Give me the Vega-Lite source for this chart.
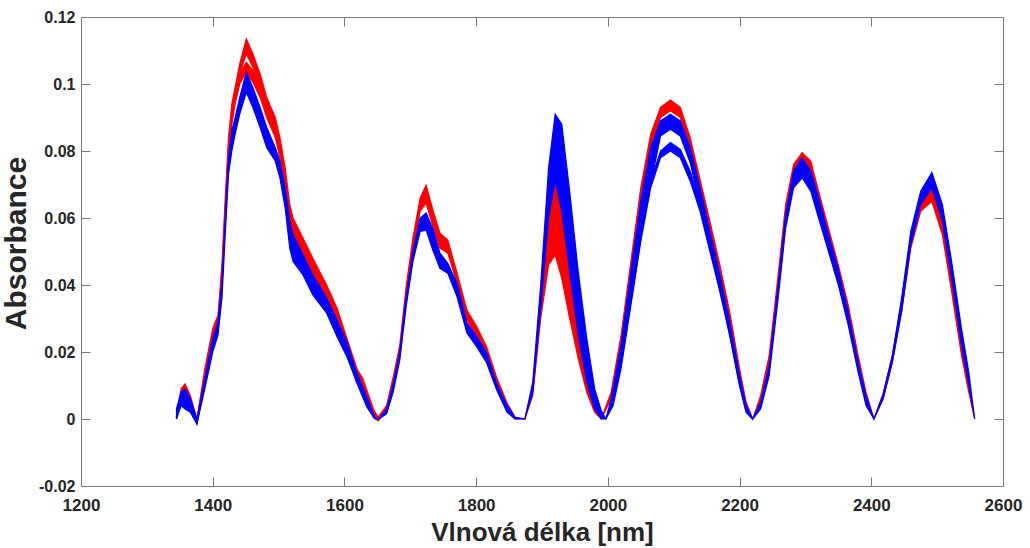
{
  "$schema": "https://vega.github.io/schema/vega-lite/v6.json",
  "width": 922,
  "height": 469,
  "autosize": {"type": "none"},
  "padding": {"left": 81, "top": 17, "right": 27, "bottom": 62},
  "background": "white",
  "config": {
    "view": {"stroke": "#7a7a7a", "strokeWidth": 1},
    "axis": {
      "grid": false,
      "domainColor": "#7a7a7a",
      "tickColor": "#7a7a7a",
      "tickSize": -9,
      "labelFlush": false,
      "labelFont": "Liberation Sans",
      "labelFontWeight": "bold",
      "labelColor": "#262626",
      "titleFont": "Liberation Sans",
      "titleFontWeight": "bold",
      "titleColor": "#262626"
    }
  },
  "datasets": {
    "spectra": [
      {"wl":1345,"g":"r1","lo":0,"hi":0.001},{"wl":1352,"g":"r1","lo":0.007,"hi":0.009},{"wl":1358,"g":"r1","lo":0.008,"hi":0.0105},{"wl":1366,"g":"r1","lo":0.004,"hi":0.007},{"wl":1376,"g":"r1","lo":-0.0015,"hi":0},
      {"wl":1388,"g":"r1","lo":0.012,"hi":0.015},{"wl":1400,"g":"r1","lo":0.023,"hi":0.027},{"wl":1408,"g":"r1","lo":0.027,"hi":0.031},{"wl":1414,"g":"r1","lo":0.041,"hi":0.046},{"wl":1419,"g":"r1","lo":0.061,"hi":0.066},{"wl":1424,"g":"r1","lo":0.079,"hi":0.084},{"wl":1429,"g":"r1","lo":0.09,"hi":0.094},{"wl":1434,"g":"r1","lo":0.096,"hi":0.099},{"wl":1441,"g":"r1","lo":0.103,"hi":0.106},{"wl":1451,"g":"r1","lo":0.109,"hi":0.1135},{"wl":1461,"g":"r1","lo":0.105,"hi":0.109},{"wl":1472,"g":"r1","lo":0.099,"hi":0.103},{"wl":1482,"g":"r1","lo":0.092,"hi":0.096},{"wl":1495,"g":"r1","lo":0.086,"hi":0.09},{"wl":1502,"g":"r1","lo":0.08,"hi":0.084},{"wl":1510,"g":"r1","lo":0.071,"hi":0.075},{"wl":1517,"g":"r1","lo":0.06,"hi":0.064},{"wl":1522,"g":"r1","lo":0.056,"hi":0.06},{"wl":1537,"g":"r1","lo":0.05,"hi":0.054},{"wl":1552,"g":"r1","lo":0.044,"hi":0.048},{"wl":1573,"g":"r1","lo":0.036,"hi":0.04},{"wl":1589,"g":"r1","lo":0.029,"hi":0.033},{"wl":1604,"g":"r1","lo":0.021,"hi":0.024},{"wl":1619,"g":"r1","lo":0.012,"hi":0.015},{"wl":1628,"g":"r1","lo":0.009,"hi":0.012},{"wl":1644,"g":"r1","lo":0.001,"hi":0.003},{"wl":1651,"g":"r1","lo":-0.0005,"hi":0.0005},
      {"wl":1664,"g":"r1","lo":0.002,"hi":0.004},{"wl":1674,"g":"r1","lo":0.01,"hi":0.0125},{"wl":1684,"g":"r1","lo":0.019,"hi":0.022},{"wl":1694,"g":"r1","lo":0.036,"hi":0.04},{"wl":1704,"g":"r1","lo":0.05,"hi":0.054},{"wl":1715,"g":"r1","lo":0.062,"hi":0.066},{"wl":1724,"g":"r1","lo":0.0645,"hi":0.0698},{"wl":1735,"g":"r1","lo":0.057,"hi":0.062},{"wl":1745,"g":"r1","lo":0.051,"hi":0.0555},{"wl":1757,"g":"r1","lo":0.0495,"hi":0.0534},{"wl":1771,"g":"r1","lo":0.0405,"hi":0.0436},{"wl":1786,"g":"r1","lo":0.0296,"hi":0.0325},{"wl":1801,"g":"r1","lo":0.0245,"hi":0.0275},{"wl":1816,"g":"r1","lo":0.0185,"hi":0.0215},{"wl":1831,"g":"r1","lo":0.0095,"hi":0.0125},{"wl":1847,"g":"r1","lo":0.0027,"hi":0.0048},{"wl":1859,"g":"r1","lo":0,"hi":0.0006},{"wl":1874,"g":"r1","lo":0,"hi":0},
      {"wl":1886,"g":"r1","lo":0.007,"hi":0.01},{"wl":1898,"g":"r1","lo":0.03,"hi":0.037},{"wl":1910,"g":"r1","lo":0.046,"hi":0.063},{"wl":1920,"g":"r1","lo":0.049,"hi":0.072},{"wl":1930,"g":"r1","lo":0.042,"hi":0.064},{"wl":1942,"g":"r1","lo":0.03,"hi":0.046},{"wl":1955,"g":"r1","lo":0.018,"hi":0.028},{"wl":1968,"g":"r1","lo":0.008,"hi":0.0135},{"wl":1980,"g":"r1","lo":0.002,"hi":0.004},{"wl":1990,"g":"r1","lo":0,"hi":0},
      {"wl":2005,"g":"r1","lo":0.006,"hi":0.008},{"wl":2020,"g":"r1","lo":0.021,"hi":0.025},{"wl":2035,"g":"r1","lo":0.042,"hi":0.047},{"wl":2050,"g":"r1","lo":0.064,"hi":0.069},{"wl":2065,"g":"r1","lo":0.081,"hi":0.085},{"wl":2080,"g":"r1","lo":0.09,"hi":0.093},{"wl":2095,"g":"r1","lo":0.092,"hi":0.0952},{"wl":2110,"g":"r1","lo":0.09,"hi":0.093},{"wl":2125,"g":"r1","lo":0.0805,"hi":0.084},{"wl":2140,"g":"r1","lo":0.068,"hi":0.0715},{"wl":2155,"g":"r1","lo":0.055,"hi":0.059},{"wl":2170,"g":"r1","lo":0.042,"hi":0.046},{"wl":2185,"g":"r1","lo":0.028,"hi":0.032},{"wl":2200,"g":"r1","lo":0.012,"hi":0.015},{"wl":2210,"g":"r1","lo":0.003,"hi":0.005},{"wl":2220,"g":"r1","lo":0,"hi":0},
      {"wl":2232,"g":"r1","lo":0.005,"hi":0.007},{"wl":2245,"g":"r1","lo":0.016,"hi":0.019},{"wl":2258,"g":"r1","lo":0.038,"hi":0.042},{"wl":2270,"g":"r1","lo":0.06,"hi":0.064},{"wl":2282,"g":"r1","lo":0.073,"hi":0.076},{"wl":2295,"g":"r1","lo":0.0755,"hi":0.0795},{"wl":2308,"g":"r1","lo":0.073,"hi":0.077},{"wl":2320,"g":"r1","lo":0.064,"hi":0.068},{"wl":2335,"g":"r1","lo":0.053,"hi":0.057},{"wl":2350,"g":"r1","lo":0.042,"hi":0.046},{"wl":2365,"g":"r1","lo":0.03,"hi":0.034},{"wl":2380,"g":"r1","lo":0.016,"hi":0.019},{"wl":2392,"g":"r1","lo":0.005,"hi":0.008},{"wl":2404,"g":"r1","lo":0,"hi":0},
      {"wl":2418,"g":"r1","lo":0.006,"hi":0.0075},{"wl":2432,"g":"r1","lo":0.017,"hi":0.019},{"wl":2446,"g":"r1","lo":0.032,"hi":0.035},{"wl":2460,"g":"r1","lo":0.051,"hi":0.054},{"wl":2475,"g":"r1","lo":0.062,"hi":0.066},{"wl":2492,"g":"r1","lo":0.065,"hi":0.071},{"wl":2508,"g":"r1","lo":0.055,"hi":0.06},{"wl":2522,"g":"r1","lo":0.038,"hi":0.043},{"wl":2537,"g":"r1","lo":0.019,"hi":0.023},{"wl":2548,"g":"r1","lo":0.008,"hi":0.011},{"wl":2557,"g":"r1","lo":0,"hi":0},

      {"wl":1376,"g":"r2","lo":-0.0015,"hi":0},{"wl":1388,"g":"r2","lo":0.011,"hi":0.013},{"wl":1400,"g":"r2","lo":0.022,"hi":0.025},{"wl":1408,"g":"r2","lo":0.026,"hi":0.029},{"wl":1414,"g":"r2","lo":0.04,"hi":0.044},{"wl":1419,"g":"r2","lo":0.059,"hi":0.063},{"wl":1424,"g":"r2","lo":0.077,"hi":0.081},{"wl":1429,"g":"r2","lo":0.088,"hi":0.091},{"wl":1434,"g":"r2","lo":0.094,"hi":0.097},{"wl":1441,"g":"r2","lo":0.1,"hi":0.103},{"wl":1451,"g":"r2","lo":0.1035,"hi":0.1065},{"wl":1461,"g":"r2","lo":0.1005,"hi":0.104},{"wl":1472,"g":"r2","lo":0.096,"hi":0.0995},{"wl":1482,"g":"r2","lo":0.09,"hi":0.093},{"wl":1495,"g":"r2","lo":0.084,"hi":0.087},{"wl":1502,"g":"r2","lo":0.078,"hi":0.081},{"wl":1510,"g":"r2","lo":0.069,"hi":0.072},{"wl":1517,"g":"r2","lo":0.058,"hi":0.061},{"wl":1522,"g":"r2","lo":0.055,"hi":0.057},{"wl":1537,"g":"r2","lo":0.049,"hi":0.051},{"wl":1552,"g":"r2","lo":0.043,"hi":0.045},{"wl":1573,"g":"r2","lo":0.035,"hi":0.037},{"wl":1589,"g":"r2","lo":0.028,"hi":0.03},{"wl":1604,"g":"r2","lo":0.02,"hi":0.022},{"wl":1619,"g":"r2","lo":0.011,"hi":0.013},{"wl":1628,"g":"r2","lo":0.008,"hi":0.01},{"wl":1644,"g":"r2","lo":0.0005,"hi":0.002},{"wl":1651,"g":"r2","lo":-0.0005,"hi":0.0005},

      {"wl":1345,"g":"b1","lo":0,"hi":0.003},{"wl":1352,"g":"b1","lo":0.004,"hi":0.008},{"wl":1358,"g":"b1","lo":0.003,"hi":0.009},{"wl":1366,"g":"b1","lo":0.002,"hi":0.006},{"wl":1376,"g":"b1","lo":-0.0015,"hi":0},
      {"wl":1388,"g":"b1","lo":0.009,"hi":0.012},{"wl":1400,"g":"b1","lo":0.02,"hi":0.024},{"wl":1408,"g":"b1","lo":0.025,"hi":0.029},{"wl":1414,"g":"b1","lo":0.036,"hi":0.041},{"wl":1419,"g":"b1","lo":0.055,"hi":0.06},{"wl":1424,"g":"b1","lo":0.073,"hi":0.078},{"wl":1429,"g":"b1","lo":0.08,"hi":0.086},{"wl":1434,"g":"b1","lo":0.085,"hi":0.09},{"wl":1441,"g":"b1","lo":0.091,"hi":0.096},{"wl":1451,"g":"b1","lo":0.0975,"hi":0.1035},{"wl":1461,"g":"b1","lo":0.093,"hi":0.099},{"wl":1472,"g":"b1","lo":0.087,"hi":0.093},{"wl":1482,"g":"b1","lo":0.081,"hi":0.087},{"wl":1495,"g":"b1","lo":0.077,"hi":0.081},{"wl":1502,"g":"b1","lo":0.072,"hi":0.077},{"wl":1510,"g":"b1","lo":0.063,"hi":0.069},{"wl":1517,"g":"b1","lo":0.051,"hi":0.059},{"wl":1522,"g":"b1","lo":0.047,"hi":0.055},{"wl":1537,"g":"b1","lo":0.043,"hi":0.049},{"wl":1552,"g":"b1","lo":0.037,"hi":0.043},{"wl":1573,"g":"b1","lo":0.0316,"hi":0.036},{"wl":1589,"g":"b1","lo":0.0245,"hi":0.0295},{"wl":1604,"g":"b1","lo":0.0185,"hi":0.0227},{"wl":1619,"g":"b1","lo":0.0107,"hi":0.0137},{"wl":1634,"g":"b1","lo":0.0036,"hi":0.0066},{"wl":1646,"g":"b1","lo":0,"hi":0.0006},{"wl":1652,"g":"b1","lo":0,"hi":0},
      {"wl":1664,"g":"b1","lo":0.0015,"hi":0.003},{"wl":1674,"g":"b1","lo":0.008,"hi":0.0105},{"wl":1684,"g":"b1","lo":0.0175,"hi":0.02},{"wl":1694,"g":"b1","lo":0.034,"hi":0.037},{"wl":1704,"g":"b1","lo":0.047,"hi":0.05},{"wl":1715,"g":"b1","lo":0.056,"hi":0.06},{"wl":1724,"g":"b1","lo":0.0564,"hi":0.0615},{"wl":1735,"g":"b1","lo":0.05,"hi":0.0564},{"wl":1745,"g":"b1","lo":0.045,"hi":0.0495},{"wl":1757,"g":"b1","lo":0.0435,"hi":0.0465},{"wl":1771,"g":"b1","lo":0.0365,"hi":0.0405},{"wl":1786,"g":"b1","lo":0.0257,"hi":0.0287},{"wl":1801,"g":"b1","lo":0.0215,"hi":0.0245},{"wl":1816,"g":"b1","lo":0.0167,"hi":0.0197},{"wl":1831,"g":"b1","lo":0.0087,"hi":0.0107},{"wl":1847,"g":"b1","lo":0.002,"hi":0.004},{"wl":1859,"g":"b1","lo":0,"hi":0.0005},{"wl":1874,"g":"b1","lo":0,"hi":0},
      {"wl":1886,"g":"b1","lo":0.008,"hi":0.011},{"wl":1898,"g":"b1","lo":0.033,"hi":0.04},{"wl":1910,"g":"b1","lo":0.06,"hi":0.075},{"wl":1920,"g":"b1","lo":0.071,"hi":0.091},{"wl":1930,"g":"b1","lo":0.062,"hi":0.088},{"wl":1942,"g":"b1","lo":0.044,"hi":0.068},{"wl":1955,"g":"b1","lo":0.025,"hi":0.044},{"wl":1968,"g":"b1","lo":0.011,"hi":0.024},{"wl":1980,"g":"b1","lo":0.003,"hi":0.009},{"wl":1990,"g":"b1","lo":0,"hi":0.0025},{"wl":1997,"g":"b1","lo":0,"hi":0},
      {"wl":2005,"g":"b1","lo":0.004,"hi":0.006},{"wl":2020,"g":"b1","lo":0.016,"hi":0.022},{"wl":2035,"g":"b1","lo":0.035,"hi":0.044},{"wl":2050,"g":"b1","lo":0.054,"hi":0.065},{"wl":2065,"g":"b1","lo":0.07,"hi":0.081},{"wl":2080,"g":"b1","lo":0.0845,"hi":0.089},{"wl":2095,"g":"b1","lo":0.0865,"hi":0.091},{"wl":2110,"g":"b1","lo":0.0845,"hi":0.089},{"wl":2125,"g":"b1","lo":0.0765,"hi":0.081},{"wl":2140,"g":"b1","lo":0.064,"hi":0.069},{"wl":2155,"g":"b1","lo":0.051,"hi":0.056},{"wl":2170,"g":"b1","lo":0.039,"hi":0.043},{"wl":2185,"g":"b1","lo":0.025,"hi":0.029},{"wl":2200,"g":"b1","lo":0.01,"hi":0.013},{"wl":2210,"g":"b1","lo":0.002,"hi":0.004},{"wl":2220,"g":"b1","lo":0,"hi":0},
      {"wl":2232,"g":"b1","lo":0.003,"hi":0.005},{"wl":2245,"g":"b1","lo":0.013,"hi":0.016},{"wl":2258,"g":"b1","lo":0.035,"hi":0.039},{"wl":2270,"g":"b1","lo":0.057,"hi":0.061},{"wl":2282,"g":"b1","lo":0.069,"hi":0.074},{"wl":2295,"g":"b1","lo":0.072,"hi":0.078},{"wl":2308,"g":"b1","lo":0.068,"hi":0.074},{"wl":2320,"g":"b1","lo":0.06,"hi":0.066},{"wl":2335,"g":"b1","lo":0.05,"hi":0.055},{"wl":2350,"g":"b1","lo":0.04,"hi":0.0445},{"wl":2365,"g":"b1","lo":0.028,"hi":0.032},{"wl":2380,"g":"b1","lo":0.014,"hi":0.017},{"wl":2392,"g":"b1","lo":0.004,"hi":0.007},{"wl":2404,"g":"b1","lo":0,"hi":0},
      {"wl":2418,"g":"b1","lo":0.006,"hi":0.0075},{"wl":2432,"g":"b1","lo":0.017,"hi":0.019},{"wl":2446,"g":"b1","lo":0.032,"hi":0.036},{"wl":2460,"g":"b1","lo":0.052,"hi":0.056},{"wl":2475,"g":"b1","lo":0.064,"hi":0.068},{"wl":2492,"g":"b1","lo":0.069,"hi":0.0736},{"wl":2508,"g":"b1","lo":0.059,"hi":0.064},{"wl":2522,"g":"b1","lo":0.042,"hi":0.047},{"wl":2537,"g":"b1","lo":0.022,"hi":0.027},{"wl":2548,"g":"b1","lo":0.01,"hi":0.014},{"wl":2557,"g":"b1","lo":0,"hi":0},

      {"wl":1997,"g":"b2","lo":0,"hi":0},{"wl":2008,"g":"b2","lo":0.004,"hi":0.005},{"wl":2020,"g":"b2","lo":0.015,"hi":0.017},{"wl":2035,"g":"b2","lo":0.034,"hi":0.036},{"wl":2050,"g":"b2","lo":0.053,"hi":0.055},{"wl":2065,"g":"b2","lo":0.069,"hi":0.071},{"wl":2080,"g":"b2","lo":0.078,"hi":0.08},{"wl":2095,"g":"b2","lo":0.08,"hi":0.0825},{"wl":2110,"g":"b2","lo":0.078,"hi":0.0805},{"wl":2125,"g":"b2","lo":0.071,"hi":0.074},{"wl":2140,"g":"b2","lo":0.062,"hi":0.065},{"wl":2155,"g":"b2","lo":0.05,"hi":0.053},{"wl":2170,"g":"b2","lo":0.038,"hi":0.041},{"wl":2185,"g":"b2","lo":0.025,"hi":0.028},{"wl":2200,"g":"b2","lo":0.01,"hi":0.012},{"wl":2210,"g":"b2","lo":0.002,"hi":0.003},{"wl":2220,"g":"b2","lo":0,"hi":0}
    ]
  },
  "data": {"name": "spectra"},
  "encoding": {
    "x": {
      "field": "wl", "type": "quantitative",
      "scale": {"domain": [1200, 2600], "nice": false, "zero": false},
      "axis": null
    },
    "y": {
      "field": "lo", "type": "quantitative",
      "scale": {"domain": [-0.02, 0.12], "nice": false, "zero": false},
      "axis": null
    }
  },
  "layer": [
    {
      "transform": [{"filter": "datum.g == 'r2'"}],
      "mark": {"type": "area", "color": "#ff0000", "stroke": "#ff0000", "strokeWidth": 1.2, "opacity": 1},
      "encoding": {
        "x": {"field": "wl", "type": "quantitative", "scale": {"domain": [1200, 2600], "nice": false, "zero": false}, "axis": {"orient": "bottom", "values": [1200,1400,1600,1800,2000,2200,2400,2600], "format": "d", "labelFontSize": 17, "labelPadding": 20, "title": "Vlnová délka [nm]", "titleFontSize": 26, "titleBaseline": "alphabetic", "titleX": 461, "titleY": 54}},
        "y": {"field": "lo", "type": "quantitative", "scale": {"domain": [-0.02, 0.12], "nice": false, "zero": false}, "axis": {"orient": "left", "values": [-0.02,0,0.02,0.04,0.06,0.08,0.1,0.12], "labelExpr": "replace(format(datum.value, '~g'), '−', '-')", "labelFontSize": 16, "labelPadding": 15, "title": "Absorbance", "titleFontSize": 30, "titleX": -50, "titleY": 226}},
        "y2": {"field": "hi"}
      }
    },
    {
      "transform": [{"filter": "datum.g == 'r1'"}],
      "mark": {"type": "area", "color": "#ff0000", "stroke": "#ff0000", "strokeWidth": 1.2, "opacity": 1},
      "encoding": {"y2": {"field": "hi"}}
    },
    {
      "transform": [{"filter": "datum.g == 'b2'"}],
      "mark": {"type": "area", "color": "#0000ff", "stroke": "#0000ff", "strokeWidth": 1.2, "opacity": 1},
      "encoding": {"y2": {"field": "hi"}}
    },
    {
      "transform": [{"filter": "datum.g == 'b1'"}],
      "mark": {"type": "area", "color": "#0000ff", "stroke": "#0000ff", "strokeWidth": 1.2, "opacity": 1},
      "encoding": {"y2": {"field": "hi"}}
    },
    {
      "transform": [{"filter": "datum.g == 'b1'"}],
      "mark": {"type": "point", "opacity": 0},
      "encoding": {
        "x": {"field": "wl", "type": "quantitative", "scale": {"domain": [1200, 2600], "nice": false, "zero": false}, "axis": {"orient": "top", "values": [1200,1400,1600,1800,2000,2200,2400,2600], "labels": false, "title": null, "domain": false}},
        "y": {"field": "hi", "type": "quantitative", "scale": {"domain": [-0.02, 0.12], "nice": false, "zero": false}, "axis": {"orient": "right", "values": [-0.02,0,0.02,0.04,0.06,0.08,0.1,0.12], "labels": false, "title": null, "domain": false}}
      }
    }
  ],
  "resolve": {"axis": {"x": "independent", "y": "independent"}}
}
